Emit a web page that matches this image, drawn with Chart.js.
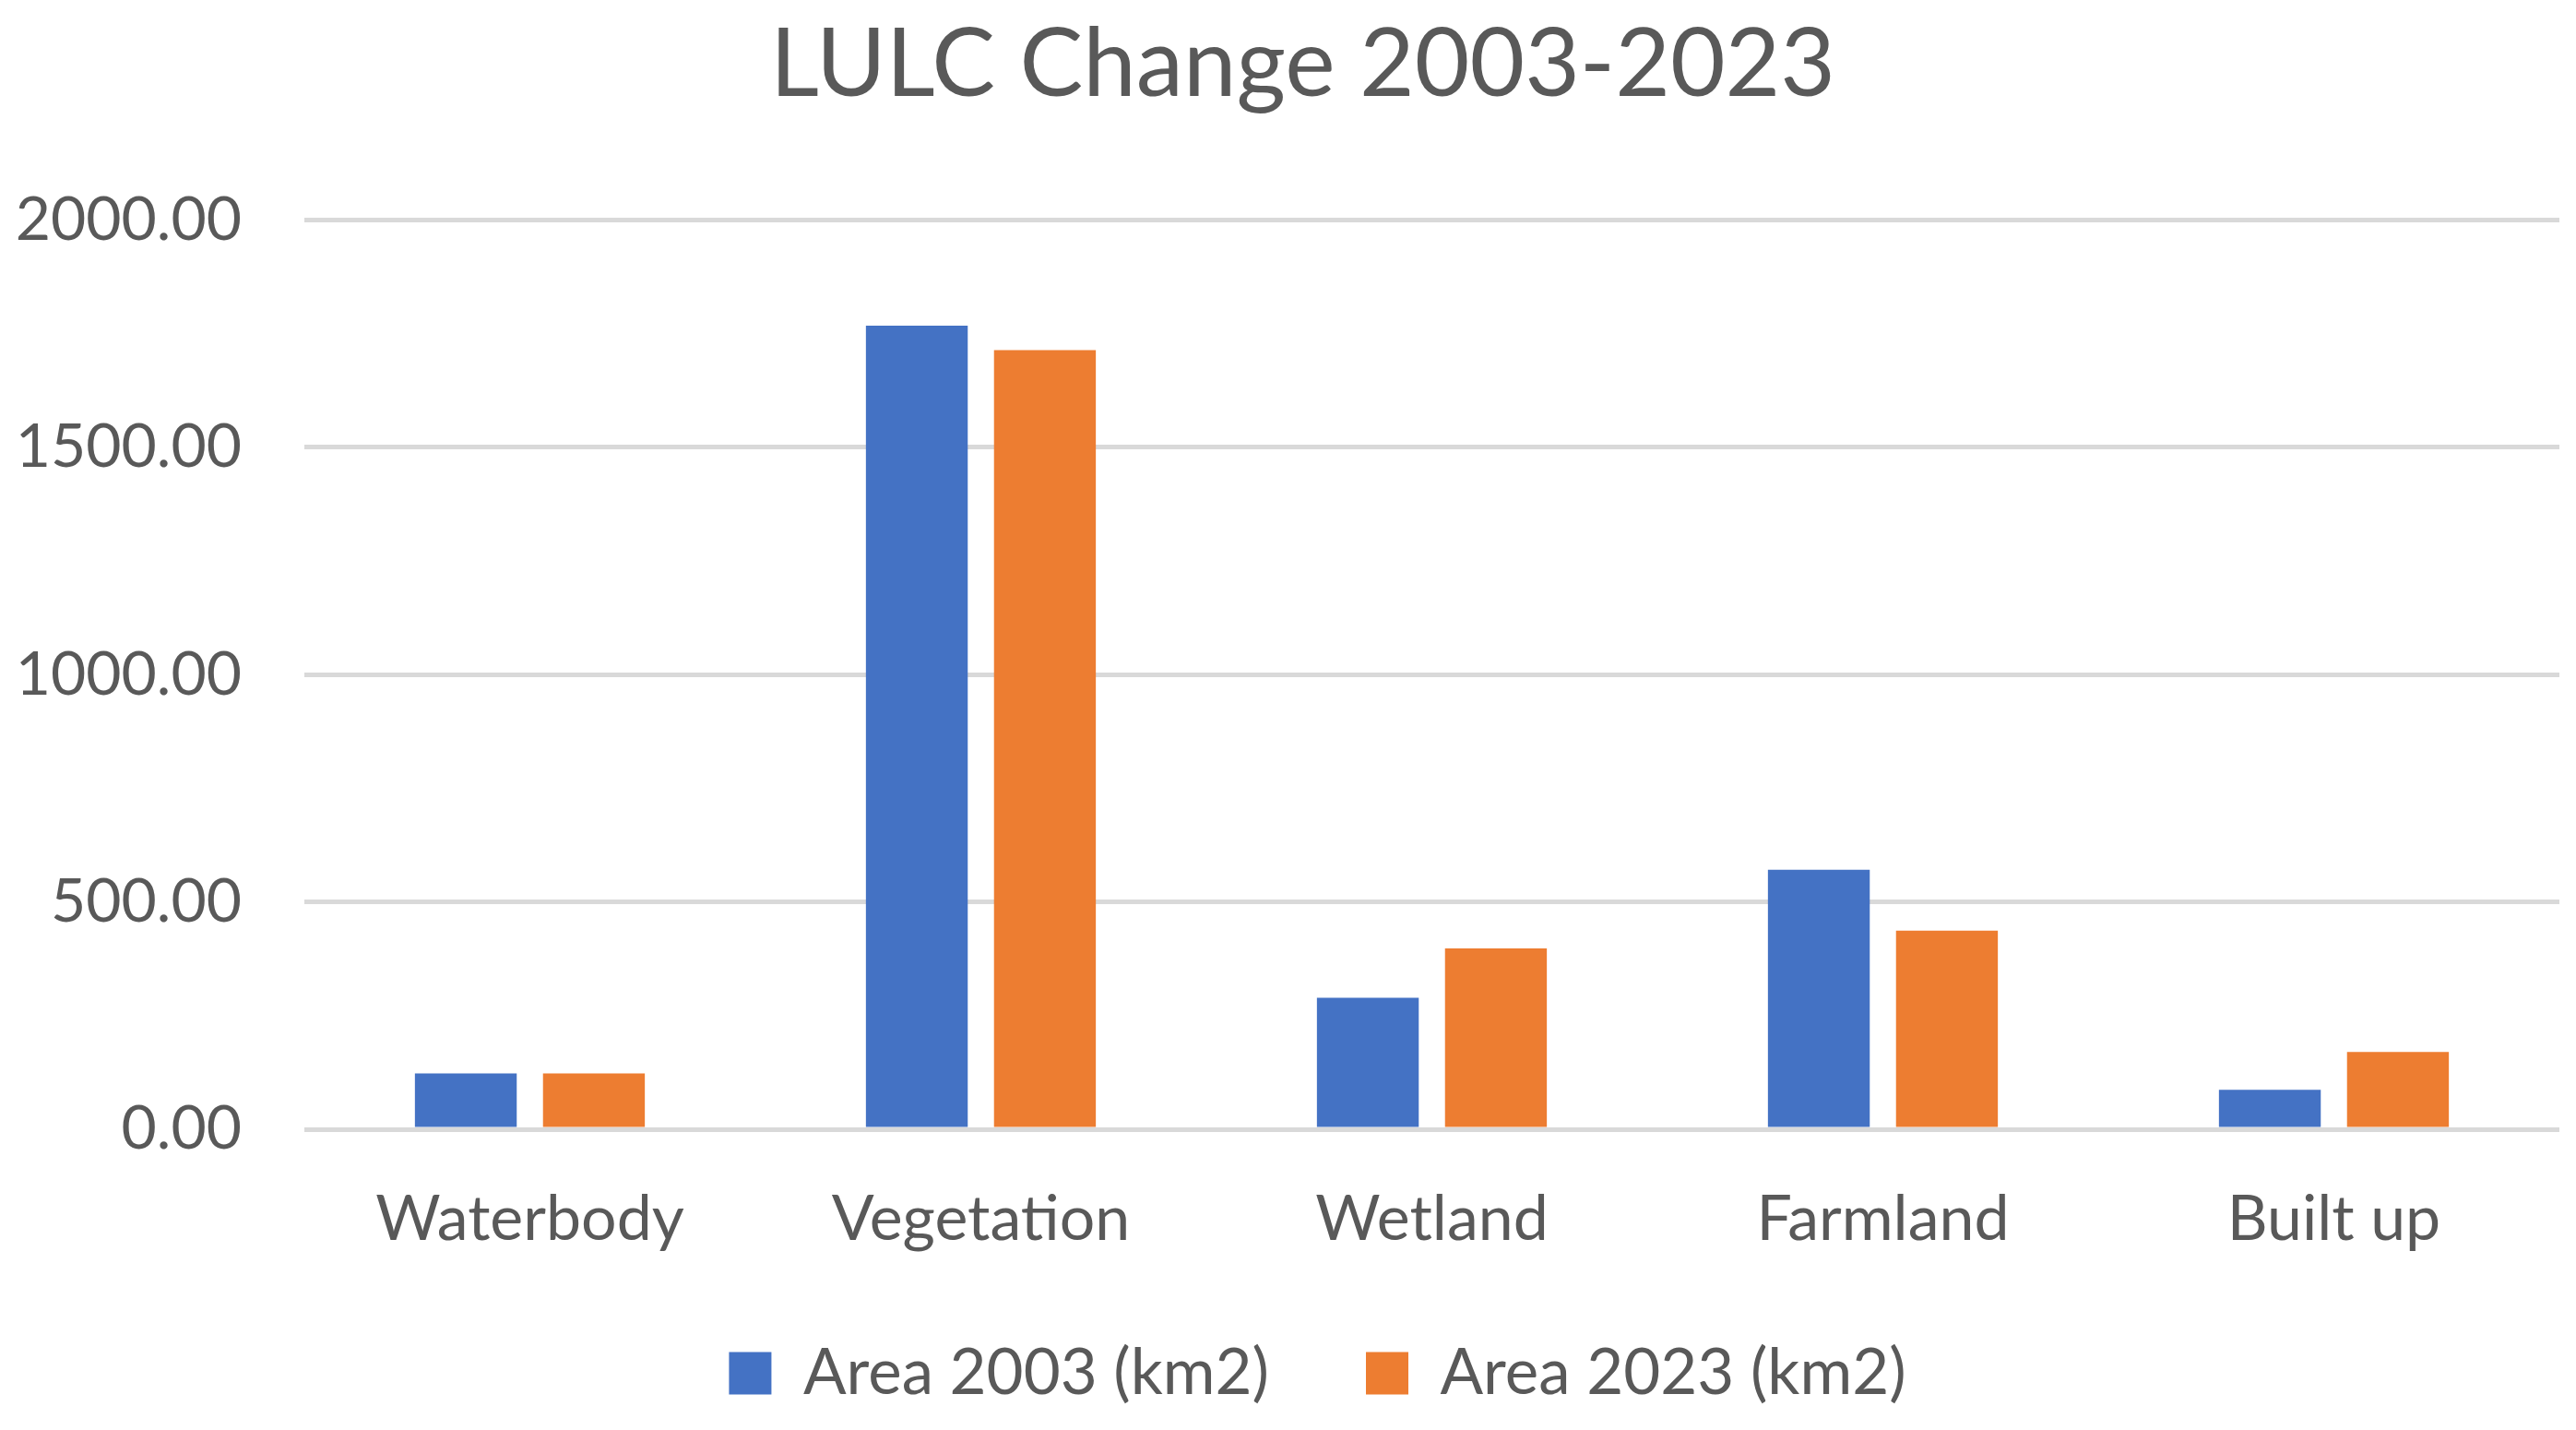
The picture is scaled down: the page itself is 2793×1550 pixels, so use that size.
<!DOCTYPE html>
<html>
<head>
<meta charset="utf-8">
<script src="https://cdn.jsdelivr.net/npm/chart.js@4"></script>
<style>
html,body{margin:0;padding:0;background:#fff;}
#wrap{width:2793px;height:1550px;position:relative;}
</style>
</head>
<body>
<div id="wrap"><canvas id="c" width="2793" height="1550"></canvas></div>
<script>
const categories = ["Waterbody", "Vegetation", "Wetland", "Farmland", "Built up"];
const area2003 = [123, 1768, 289, 571, 87];
const area2023 = [123, 1714, 398, 437, 170];
const seriesNames = ["Area 2003 (km2)", "Area 2023 (km2)"];
const chartTitle = "LULC Change 2003-2023";

const FONT = "Lato, 'Open Sans', sans-serif";
const TXT = "#595959";

// nudge title and legend boxes to match the reference placement
const nudgeBoxes = {
  id: 'nudgeBoxes',
  afterLayout(chart) {
    const t = chart.titleBlock;
    if (t) { t.left += 25; t.right += 25; }
    const l = chart.legend;
    if (l) { l.left += 41; l.right += 41; l.top -= 15; l.bottom -= 15; }
  }
};

new Chart(document.getElementById('c'), {
  type: 'bar',
  data: {
    labels: categories,
    datasets: [
      {label: seriesNames[0], data: area2003, backgroundColor: '#4472C4', categoryPercentage: 0.568, barPercentage: 0.795},
      {label: seriesNames[1], data: area2023, backgroundColor: '#ED7D31', categoryPercentage: 0.568, barPercentage: 0.795}
    ]
  },
  plugins: [nudgeBoxes],
  options: {
    responsive: false,
    devicePixelRatio: 1,
    animation: false,
    layout: {padding: {left: 0, right: 18, top: 0, bottom: 2}},
    plugins: {
      title: {
        display: true, text: chartTitle, color: TXT,
        font: {family: FONT, size: 103, weight: 'normal'},
        padding: {top: 9, bottom: 106}
      },
      legend: {
        position: 'bottom',
        labels: {
          color: TXT, font: {family: FONT, size: 69},
          boxWidth: 46, boxHeight: 46, padding: 105
        }
      },
      tooltip: {enabled: false}
    },
    scales: {
      x: {
        grid: {display: false, drawTicks: false},
        border: {display: false},
        ticks: {color: TXT, font: {family: FONT, size: 68}, padding: 57, maxRotation: 0},
        afterFit: s => { s.height = 140; }
      },
      y: {
        min: 0, max: 2000,
        grid: {color: '#D9D9D9', lineWidth: 5, drawTicks: false},
        border: {display: false},
        ticks: {stepSize: 500, color: TXT, font: {family: FONT, size: 66}, padding: 68,
          callback: v => Number(v).toFixed(2)},
        afterFit: s => { s.width = 330; }
      }
    }
  }
});
</script>
</body>
</html>
